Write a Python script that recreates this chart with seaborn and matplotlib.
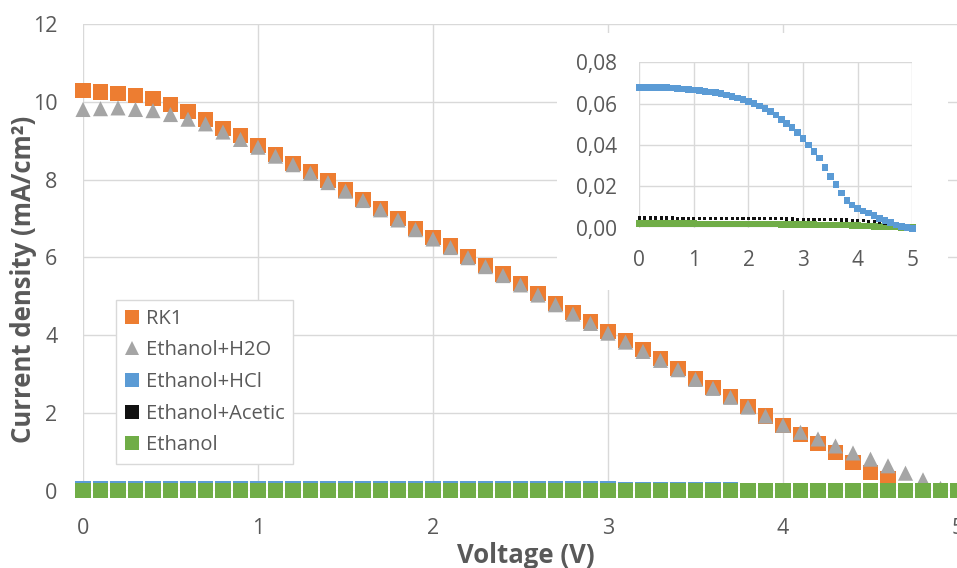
import numpy as np
import pandas as pd
import matplotlib
matplotlib.use("Agg")
import matplotlib.pyplot as plt
from matplotlib.lines import Line2D
from matplotlib.patches import Rectangle
from matplotlib.ticker import FuncFormatter
import seaborn as sns

# ---------------- data ----------------
series_names = ["RK1", "Ethanol+H2O", "Ethanol+HCl", "Ethanol+Acetic", "Ethanol"]
series_colors = ["#ED7D31", "#A5A5A5", "#5B9BD5", "#111111", "#70AD47"]

v_rk1 = [round(0.1 * i, 1) for i in range(47)]       # 0 .. 4.6 V
j_rk1 = [10.28, 10.25, 10.22, 10.15, 10.08, 9.92, 9.75, 9.55, 9.31, 9.12,
         8.88, 8.64, 8.42, 8.20, 7.97, 7.73, 7.49, 7.26, 7.00, 6.75,
         6.51, 6.29, 6.03, 5.80, 5.57, 5.33, 5.07, 4.82, 4.58, 4.34,
         4.09, 3.86, 3.62, 3.39, 3.15, 2.89, 2.66, 2.42, 2.16, 1.92,
         1.67, 1.44, 1.21, 0.98, 0.73, 0.46, 0.32]

v_h2o = [round(0.1 * i, 1) for i in range(50)]       # 0 .. 4.9 V
j_h2o = [9.80, 9.82, 9.84, 9.80, 9.77, 9.67, 9.55, 9.43, 9.22, 9.03,
         8.83, 8.60, 8.38, 8.16, 7.92, 7.70, 7.46,
         7.22, 6.96, 6.71, 6.47, 6.25, 5.99, 5.76, 5.53, 5.29, 5.03,
         4.78, 4.54, 4.30, 4.05, 3.82, 3.58, 3.35, 3.11, 2.86, 2.63,
         2.40, 2.15, 1.92, 1.68,
         1.50, 1.33, 1.15, 0.97, 0.81, 0.64, 0.45, 0.28, 0.06]

v_low = [round(0.1 * i, 1) for i in range(51)]       # 0 .. 5.0 V
j_hcl = [0.0679, 0.0679, 0.0679, 0.0678, 0.0678, 0.0677, 0.0675, 0.0673, 0.0671, 0.0669,
         0.0666, 0.0663, 0.0660, 0.0657, 0.0653, 0.0648, 0.0642, 0.0635, 0.0627, 0.0619,
         0.0610, 0.0600, 0.0589, 0.0576, 0.0561, 0.0544, 0.0524, 0.0505, 0.0484, 0.0460,
         0.0432, 0.0400, 0.0368, 0.0336, 0.0290, 0.0247, 0.0210, 0.0169, 0.0131, 0.0110,
         0.0094, 0.0081, 0.0070, 0.0058, 0.0045, 0.0034, 0.0024, 0.0013, 0.0005, 0.0000,
         -0.0005]
j_acetic = [0.0047, 0.0047, 0.0047, 0.0047, 0.0047, 0.0047, 0.0047, 0.0046, 0.0046, 0.0046,
            0.0046, 0.0046, 0.0046, 0.0046, 0.0046, 0.0045, 0.0045, 0.0045, 0.0045, 0.0045,
            0.0045, 0.0044, 0.0044, 0.0044, 0.0043, 0.0043, 0.0043, 0.0042, 0.0042, 0.0041,
            0.0041, 0.0040, 0.0040, 0.0039, 0.0039, 0.0038, 0.0038, 0.0037, 0.0037, 0.0036,
            0.0035, 0.0033, 0.0031, 0.0028, 0.0025, 0.0021, 0.0017, 0.0012, 0.0008, 0.0004,
            0.0000]
j_ethanol = [0.0021, 0.0021, 0.0021, 0.0021, 0.0020, 0.0020, 0.0020, 0.0020, 0.0020, 0.0020,
             0.0020, 0.0019, 0.0019, 0.0019, 0.0019, 0.0019, 0.0019, 0.0018, 0.0018, 0.0018,
             0.0018, 0.0018, 0.0017, 0.0017, 0.0017, 0.0017, 0.0016, 0.0016, 0.0016, 0.0016,
             0.0015, 0.0015, 0.0015, 0.0014, 0.0014, 0.0013, 0.0013, 0.0012, 0.0012, 0.0011,
             0.0010, 0.0009, 0.0008, 0.0007, 0.0006, 0.0005, 0.0004, 0.0003, 0.0002, 0.0001,
             0.0000]

main_xticks = [0, 1, 2, 3, 4, 5]
main_yticks = [0, 2, 4, 6, 8, 10, 12]
inset_xticks = [0, 1, 2, 3, 4, 5]
inset_yticks = [0.00, 0.02, 0.04, 0.06, 0.08]
x_label = "Voltage (V)"
y_label = "Current density (mA/cm²)"

# ---------------- frames ----------------
def frame(v, j, name):
    return pd.DataFrame({"V": v, "J": j, "series": name})

df_main = pd.concat([
    frame(v_rk1, j_rk1, series_names[0]),
    frame(v_h2o, j_h2o, series_names[1]),
    frame(v_low, j_hcl, series_names[2]),
    frame(v_low, j_acetic, series_names[3]),
    frame(v_low, j_ethanol, series_names[4]),
], ignore_index=True)

df_inset = pd.concat([
    frame(v_low, j_ethanol, series_names[4]),
    frame(v_low, j_acetic, series_names[3]),
    frame(v_low, j_hcl, series_names[2]),
], ignore_index=True)

palette = dict(zip(series_names, series_colors))
markers = {series_names[0]: "s", series_names[1]: "^", series_names[2]: "s",
           series_names[3]: "s", series_names[4]: "s"}

# ---------------- style ----------------
sns.set_style("white")
plt.rcParams["font.family"] = ["Open Sans", "DejaVu Sans"]
GRID = "#D9D9D9"
TXT = "#595959"

W, H = 957, 568
fig = plt.figure(figsize=(W / 100, H / 100), dpi=100)
fig.patch.set_facecolor("white")

def px_rect(x0, y0, x1, y1):
    return [x0 / W, 1 - y1 / H, (x1 - x0) / W, (y1 - y0) / H]

ax = fig.add_axes(px_rect(83, 23.9, 958, 490.7))
ax.set_zorder(0)

sns.scatterplot(data=df_main, x="V", y="J", hue="series", style="series",
                palette=palette, markers=markers, s=118, linewidth=0,
                legend=False, ax=ax, clip_on=False, zorder=3)

ax.set_xlim(0, 5)
ax.set_ylim(0, 12)
ax.set_xticks(main_xticks)
ax.set_yticks(main_yticks)
ax.grid(True, color=GRID, linewidth=1.0)
ax.set_axisbelow(True)
for s in ax.spines.values():
    s.set_visible(False)
ax.tick_params(axis="both", length=0, labelsize=15.5, labelcolor=TXT)
ax.tick_params(axis="y", pad=18.5)
ax.tick_params(axis="x", pad=19.5)
ax.set_xlabel("")
ax.set_ylabel("")

fig.text(526 / W, 1 - 563 / H, x_label, ha="center", va="baseline",
         fontsize=18.5, fontweight="bold", color=TXT)
fig.text(24 / W, 1 - 279 / H, y_label, ha="center", va="center", rotation=90,
         fontsize=18.5, fontweight="bold", color=TXT)

# legend
handles = []
for name, col in zip(series_names, series_colors):
    handles.append(Line2D([], [], linestyle="none", marker=markers[name],
                          markersize=9.5, markerfacecolor=col,
                          markeredgewidth=0, label=name))
leg = ax.legend(handles=handles, loc="upper left",
                bbox_to_anchor=(116 / W, 1 - 300 / H), bbox_transform=fig.transFigure,
                borderaxespad=0, frameon=True, fancybox=False, framealpha=1,
                edgecolor=GRID, fontsize=14.5, labelcolor=TXT,
                handlelength=0.7, handletextpad=0.35, labelspacing=0.58,
                borderpad=0.43)
leg.get_frame().set_linewidth(1.0)

# white inset background (chart area)
bg = Rectangle((557 / W, 1 - 290 / H), (948 - 557) / W, (290 - 33) / H,
               transform=fig.transFigure, facecolor="white", edgecolor="none",
               zorder=1)
fig.add_artist(bg)

# inset
axi = fig.add_axes(px_rect(639.3, 62.3, 912.3, 227.7))
axi.set_zorder(2)
axi.patch.set_alpha(0)
sizes = {series_names[2]: 22, series_names[3]: 5, series_names[4]: 22}
sns.scatterplot(data=df_inset, x="V", y="J", hue="series", size="series",
                sizes=sizes, palette=palette, marker="s", linewidth=0,
                legend=False, ax=axi, clip_on=False, zorder=3)
axi.set_xlim(0, 5)
axi.set_ylim(0, 0.08)
axi.set_xticks(inset_xticks)
axi.set_yticks(inset_yticks)
axi.yaxis.set_major_formatter(FuncFormatter(lambda v, p: f"{v:.2f}".replace(".", ",")))
axi.grid(True, color=GRID, linewidth=1.0)
axi.set_axisbelow(True)
for s in axi.spines.values():
    s.set_visible(False)
axi.tick_params(axis="both", length=0, labelsize=15, labelcolor=TXT)
axi.tick_params(axis="y", pad=16)
axi.tick_params(axis="x", pad=16)
axi.set_xlabel("")
axi.set_ylabel("")

fig.savefig("out.png", dpi=100)
